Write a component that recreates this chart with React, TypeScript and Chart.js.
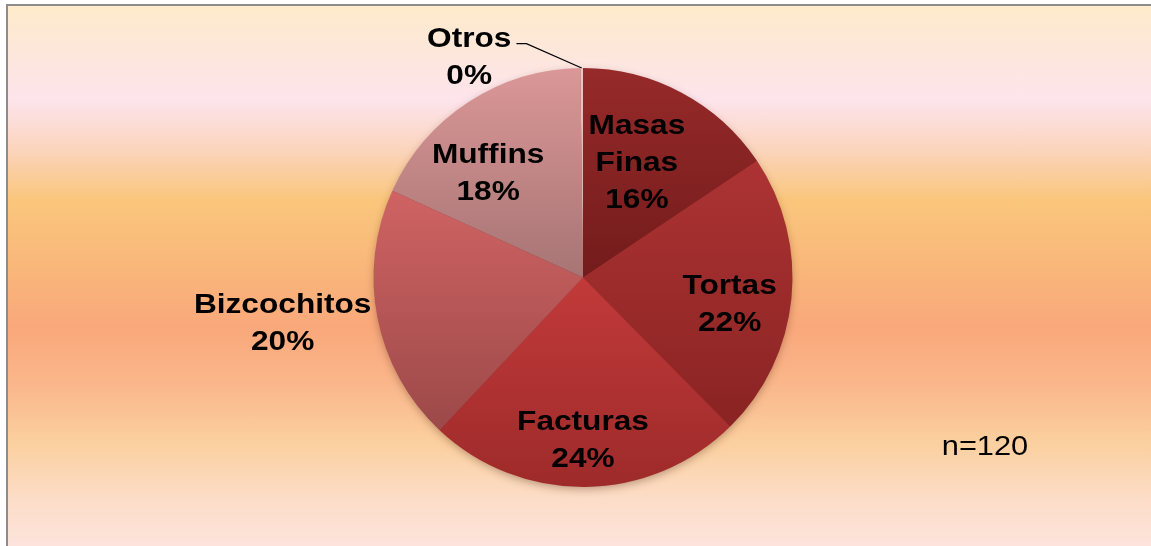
import React, { useEffect, useRef } from "react";
import { Chart, registerables } from "chart.js";

Chart.register(...registerables);

const categories = ["Masas Finas", "Tortas", "Facturas", "Bizcochitos", "Muffins", "Otros"];
const values = [15.6, 22.0, 24.4, 19.8, 18.0, 0.2];
const sampleNote = "n=120";

// light (top) -> dark (bottom) per slice
const topColors = ["#972A2A", "#AD3333", "#C23A3A", "#D06363", "#DB9797", "#EAC6C6"];
const bottomColors = ["#731B1B", "#8A2323", "#9E2A2A", "#9C4949", "#A77474", "#D8AEAE"];

// label placement in polar terms: r = fraction of radius, a = degrees clockwise from top
const labelLayout = [
  { r: 0.611, a: 24.9, leader: false },
  { r: 0.71, a: 99.7, leader: false },
  { r: 0.769, a: 180, leader: false },
  { r: 1.449, a: 261.6, leader: false },
  { r: 0.678, a: 318.1, leader: false },
  { r: 1.188, a: 332.8, leader: true },
];

const FONT_FAMILY = "'Liberation Sans', Arial, sans-serif";
const STRETCH = 1.13;
const LINE_H = 37;
const TEXT_DY = 2;

function geometry(chart: any) {
  const area = chart.chartArea;
  const cx = (area.left + area.right) / 2;
  const cy = (area.top + area.bottom) / 2;
  const R = Math.min(area.right - area.left, area.bottom - area.top) / 2;
  return { cx, cy, R };
}

function sliceAngles(data: number[]) {
  const total = data.reduce((s, v) => s + v, 0);
  const out: { start: number; end: number }[] = [];
  let acc = 0;
  for (const v of data) {
    const start = (acc / total) * 360;
    acc += v;
    out.push({ start, end: (acc / total) * 360 });
  }
  return out;
}

function sliceGradient(context: any) {
  const chart = context.chart;
  const i = context.dataIndex;
  if (!chart.chartArea || i === undefined) return topColors[i ?? 0];
  const { cx, cy, R } = geometry(chart);
  const data = chart.data.datasets[0].data as number[];
  const { start, end } = sliceAngles(data)[i];
  const ys = [cy];
  for (const a of [start, end]) ys.push(cy - R * Math.cos((a * Math.PI) / 180));
  if (start <= 0.0001) ys.push(cy - R);
  if (start <= 180 && end >= 180) ys.push(cy + R);
  if (end >= 359.999) ys.push(cy - R);
  const y0 = Math.min(...ys);
  let y1 = Math.max(...ys);
  if (y1 - y0 < 1) y1 = y0 + 1;
  const g = chart.ctx.createLinearGradient(0, y0, 0, y1);
  g.addColorStop(0, topColors[i]);
  g.addColorStop(1, bottomColors[i]);
  return g;
}

const shadowPlugin = {
  id: "pieShadow",
  beforeDatasetsDraw(chart: any) {
    const { cx, cy, R } = geometry(chart);
    const ctx = chart.ctx;
    ctx.save();
    ctx.shadowColor = "rgba(60,20,0,0.35)";
    ctx.shadowBlur = 9;
    ctx.shadowOffsetY = 3;
    ctx.fillStyle = "#8A2424";
    ctx.beginPath();
    ctx.arc(cx, cy, R - 1, 0, Math.PI * 2);
    ctx.fill();
    ctx.restore();
  },
};

const labelPlugin = {
  id: "sliceLabels",
  afterDatasetsDraw(chart: any) {
    const { cx, cy, R } = geometry(chart);
    const ctx = chart.ctx;
    const data = chart.data.datasets[0].data as number[];
    const labels = chart.data.labels as string[];
    const total = data.reduce((s, v) => s + v, 0);
    const angles = sliceAngles(data);
    ctx.save();
    ctx.fillStyle = "#000";
    ctx.textAlign = "center";
    ctx.textBaseline = "middle";
    ctx.font = `bold 28px ${FONT_FAMILY}`;
    labels.forEach((name, i) => {
      const lay = labelLayout[i];
      const rad = (lay.a * Math.PI) / 180;
      const x = cx + lay.r * R * Math.sin(rad);
      const y = cy - lay.r * R * Math.cos(rad);
      const lines = [...name.split(" "), `${Math.round((data[i] / total) * 100)}%`];
      const y0 = y - ((lines.length - 1) * LINE_H) / 2;
      lines.forEach((ln, k) => {
        ctx.save();
        ctx.translate(x, y0 + k * LINE_H + TEXT_DY);
        ctx.scale(STRETCH, 1);
        ctx.fillText(ln, 0, 0);
        ctx.restore();
      });
      if (lay.leader) {
        const w = ctx.measureText(lines[0]).width * STRETCH;
        const sx = x + w / 2 + 5;
        const sy = y0 + 6;
        const mid = ((angles[i].start + angles[i].end) / 2) * (Math.PI / 180);
        const ex = cx + R * Math.sin(mid);
        const ey = cy - R * Math.cos(mid);
        ctx.strokeStyle = "#000";
        ctx.lineWidth = 1.2;
        ctx.beginPath();
        ctx.moveTo(sx, sy);
        ctx.lineTo(sx + 10, sy);
        ctx.lineTo(ex, ey);
        ctx.stroke();
      }
    });
    ctx.font = `28px ${FONT_FAMILY}`;
    ctx.save();
    ctx.translate(985, 445 + TEXT_DY);
    ctx.scale(1.1, 1);
    ctx.fillText(sampleNote, 0, 0);
    ctx.restore();
    ctx.restore();
  },
};

export default function App() {
  const canvasRef = useRef<HTMLCanvasElement | null>(null);

  useEffect(() => {
    document.body.style.margin = "0";
    const canvas = canvasRef.current;
    if (!canvas) return;
    const chart = new Chart(canvas, {
      type: "pie",
      data: {
        labels: categories,
        datasets: [
          {
            data: values,
            backgroundColor: sliceGradient as any,
            borderWidth: 0,
            hoverOffset: 0,
            offset: 0,
          },
        ],
      },
      options: {
        animation: false,
        responsive: false,
        events: [],
        layout: { padding: { top: 68, bottom: 59, left: 15, right: 0 } },
        plugins: {
          legend: { display: false },
          tooltip: { enabled: false },
          title: { display: false },
        },
      },
      plugins: [shadowPlugin, labelPlugin],
    });
    return () => chart.destroy();
  }, []);

  const bg =
    "linear-gradient(to bottom, #FDEBCB 0px, #FDE6E0 60px, #FDE4EC 94px, #FBD4BC 144px, #FAC67C 194px, #F9B77A 261px, #F9A87B 321px, #FAB68A 377px, #FBD09F 437px, #FCDDC8 494px, #FDE3DC 540px)";

  return (
    <div style={{ position: "relative", width: 1151, height: 546, background: "#fff", overflow: "hidden" }}>
      <div
        style={{
          position: "absolute",
          left: 6,
          top: 4,
          width: 1200,
          height: 600,
          borderLeft: "2px solid #8C8C8C",
          borderTop: "2px solid #8C8C8C",
          background: bg,
        }}
      />
      <canvas ref={canvasRef} width={1151} height={546} style={{ position: "absolute", left: 0, top: 0 }} />
    </div>
  );
}
